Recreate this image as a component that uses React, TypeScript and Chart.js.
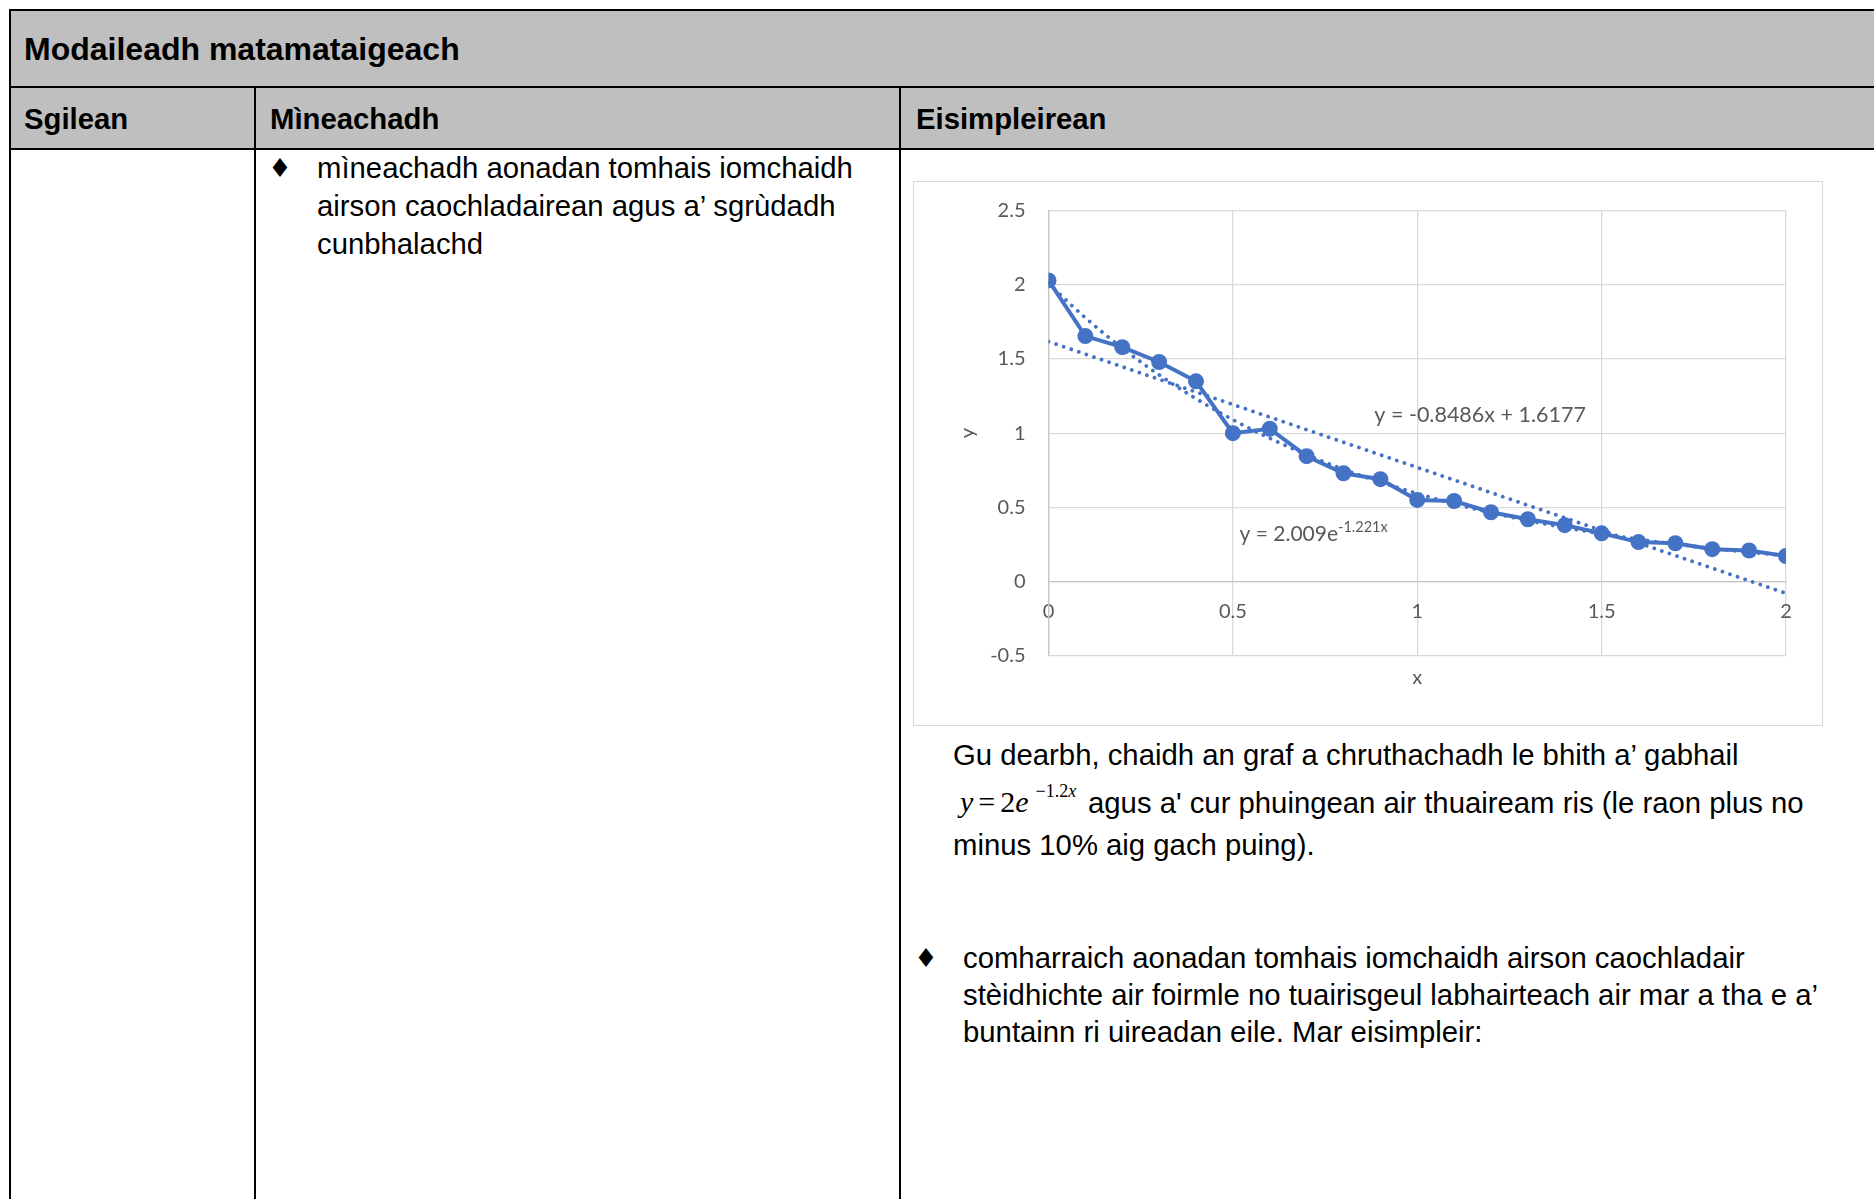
import React, { useEffect, useRef } from "react";
import { Chart, registerables } from "chart.js";

Chart.register(...registerables);

// ---------- data ----------
const xValues = [0, 0.1, 0.2, 0.3, 0.4, 0.5, 0.6, 0.7, 0.8, 0.9, 1.0, 1.1, 1.2, 1.3, 1.4, 1.5, 1.6, 1.7, 1.8, 1.9, 2.0];
const yValues = [2.03, 1.655, 1.58, 1.48, 1.35, 1.0, 1.03, 0.845, 0.73, 0.69, 0.55, 0.543, 0.467, 0.42, 0.38, 0.325, 0.266, 0.258, 0.218, 0.209, 0.172];
const expTrendValues = [2.009, 1.778, 1.574, 1.393, 1.233, 1.091, 0.966, 0.855, 0.756, 0.67, 0.593, 0.524, 0.464, 0.411, 0.364, 0.322, 0.285, 0.252, 0.223, 0.197, 0.175];
const linearTrendX = [0, 2];
const linearTrendY = [1.6177, -0.0795];
const xTickValues = [0, 0.5, 1, 1.5, 2];
const xTickLabels = ["0", "0.5", "1", "1.5", "2"];
const yTickValues = [-0.5, 0, 0.5, 1, 1.5, 2, 2.5];
const yTickLabels = ["-0.5", "0", "0.5", "1", "1.5", "2", "2.5"];
const linearLabel = "y = -0.8486x + 1.6177";
const expLabelBase = "y = 2.009e";
const expLabelPower = "-1.221x";

// ---------- styles ----------
const BLUE = "#4472C4";
const GRID = "#d9d9d9";
const AXIS = "#c6c6c6";
const TXT = "#595959";
const CFONT = "Lato";
const FONT = "'Liberation Sans', Arial, Helvetica, sans-serif";

const trendLabelPlugin = {
  id: "trendLabels",
  afterDatasetsDraw(chart: any) {
    const { ctx } = chart;
    const xs = chart.scales.x;
    const ys = chart.scales.y;
    ctx.save();
    ctx.fillStyle = TXT;
    ctx.textAlign = "left";
    ctx.textBaseline = "alphabetic";
    ctx.font = `21.5px ${CFONT}`;
    ctx.fillText(linearLabel, xs.getPixelForValue(0.8836), ys.getPixelForValue(1.0776));
    const ex = xs.getPixelForValue(0.518);
    const ey = ys.getPixelForValue(0.273);
    ctx.font = `21px ${CFONT}`;
    ctx.fillText(expLabelBase, ex, ey);
    const w = ctx.measureText(expLabelBase).width;
    ctx.font = `14.5px ${CFONT}`;
    ctx.fillText(expLabelPower, ex + w, ey - 9.5);
    ctx.restore();
  },
};

function T(props: { x: number; base: number; size?: number; bold?: boolean; children: any }) {
  const size = props.size ?? 29.3;
  return (
    <div
      style={{
        position: "absolute",
        left: props.x,
        top: props.base - 0.8465 * size,
        fontSize: size,
        lineHeight: `${size}px`,
        fontWeight: props.bold ? 700 : 400,
        whiteSpace: "nowrap",
        fontFamily: FONT,
        color: "#000",
      }}
    >
      {props.children}
    </div>
  );
}

function Bullet(props: { cx: number; base: number }) {
  return (
    <div
      style={{
        position: "absolute",
        left: props.cx - 12,
        top: props.base - 23,
        width: 24,
        textAlign: "center",
        fontSize: 26,
        lineHeight: "26px",
        fontFamily: "'DejaVu Sans', sans-serif",
        color: "#000",
      }}
    >
      ♦
    </div>
  );
}

function Line(props: { l: number; t: number; w: number; h: number }) {
  return <div style={{ position: "absolute", left: props.l, top: props.t, width: props.w, height: props.h, background: "#000" }} />;
}

export default function App() {
  const ref = useRef<HTMLCanvasElement>(null);

  useEffect(() => {
    if (!ref.current) return;
    const tickFont = { family: CFONT, size: 20 };
    const chart = new Chart(ref.current, {
      type: "line",
      data: {
        datasets: [
          {
            label: "Linear trend",
            data: linearTrendX.map((x, i) => ({ x, y: linearTrendY[i] })),
            borderColor: BLUE,
            borderWidth: 3.8,
            borderDash: [0.001, 8],
            borderCapStyle: "round",
            pointRadius: 0,
            fill: false,
          },
          {
            label: "Exponential trend",
            data: xValues.map((x, i) => ({ x, y: expTrendValues[i] })),
            borderColor: BLUE,
            borderWidth: 3.8,
            borderDash: [0.001, 8],
            borderCapStyle: "round",
            pointRadius: 0,
            cubicInterpolationMode: "monotone",
            fill: false,
          },
          {
            label: "y",
            data: xValues.map((x, i) => ({ x, y: yValues[i] })),
            borderColor: BLUE,
            borderWidth: 4,
            pointRadius: 8,
            pointBackgroundColor: BLUE,
            pointBorderWidth: 0,
            tension: 0,
            fill: false,
          },
        ],
      } as any,
      options: {
        responsive: false,
        animation: false,
        devicePixelRatio: 1,
        layout: { padding: { left: 42, top: 28.7, right: 36, bottom: 35.3 } },
        plugins: { legend: { display: false }, tooltip: { enabled: false } },
        scales: {
          x: {
            type: "linear",
            min: 0,
            max: 2,
            ticks: { display: false, stepSize: 0.5 },
            grid: { color: GRID, lineWidth: 1.3, drawTicks: false },
            border: { display: false },
            title: { display: true, text: "x", color: TXT, font: tickFont, padding: 0 },
            afterFit: (s: any) => {
              s.height = 34;
            },
          },
          x2: {
            type: "linear",
            axis: "x",
            position: { y: 0 },
            min: 0,
            max: 2,
            ticks: {
              stepSize: 0.5,
              padding: 18,
              color: TXT,
              font: tickFont,
              callback: (v: any) => {
                const i = xTickValues.indexOf(Number(v));
                return i >= 0 ? xTickLabels[i] : "";
              },
            },
            grid: { display: false, drawTicks: false },
            border: { display: true, color: AXIS, width: 1.3 },
          },
          y: {
            type: "linear",
            min: -0.5,
            max: 2.5,
            ticks: {
              stepSize: 0.5,
              padding: 15,
              color: TXT,
              font: tickFont,
              callback: (v: any) => {
                const i = yTickValues.indexOf(Number(v));
                return i >= 0 ? yTickLabels[i] : "";
              },
            },
            grid: { color: GRID, lineWidth: 1.3, drawTicks: true, tickLength: 8, tickColor: "rgba(0,0,0,0)" },
            border: { display: true, color: AXIS, width: 1.3 },
            title: { display: true, text: "y", color: TXT, font: tickFont, padding: 0 },
            afterFit: (s: any) => {
              s.width = 92.5;
            },
          },
        },
      } as any,
      plugins: [trendLabelPlugin],
    });
    return () => chart.destroy();
  }, []);

  return (
    <div style={{ position: "absolute", left: 0, top: 0, width: 1874, height: 1199, overflow: "hidden", background: "#fff" }}>
      {/* header background */}
      <div style={{ position: "absolute", left: 9, top: 10, width: 1870, height: 139, background: "#bfbfbf" }} />
      {/* table lines */}
      <Line l={8.5} t={9} w={1870} h={2} />
      <Line l={8.5} t={9} w={2} h={1200} />
      <Line l={8.5} t={86} w={1870} h={2} />
      <Line l={8.5} t={148} w={1870} h={2} />
      <Line l={254} t={87} w={2} h={1120} />
      <Line l={899} t={87} w={2} h={1120} />

      {/* headers */}
      <T x={24} base={60} size={32} bold>Modaileadh matamataigeach</T>
      <T x={24} base={129} bold>Sgilean</T>
      <T x={270} base={129} bold>Mìneachadh</T>
      <T x={916} base={129} bold>Eisimpleirean</T>

      {/* middle column */}
      <Bullet cx={280} base={178} />
      <T x={317} base={178}>mìneachadh aonadan tomhais iomchaidh</T>
      <T x={317} base={216}>airson caochladairean agus a’ sgrùdadh</T>
      <T x={317} base={254}>cunbhalachd</T>

      {/* chart */}
      <div
        style={{
          position: "absolute",
          left: 913,
          top: 181,
          width: 910,
          height: 545,
          border: "1px solid #d9d9d9",
          boxSizing: "border-box",
          background: "#fff",
        }}
      >
        <canvas ref={ref} width={908} height={543} style={{ display: "block", width: 908, height: 543 }} />
      </div>

      {/* text below chart */}
      <T x={953} base={765}>Gu dearbh, chaidh an graf a chruthachadh le bhith a’ gabhail</T>
      <div
        style={{
          position: "absolute",
          left: 960,
          top: 812 - 0.8375 * 30,
          fontSize: 30,
          lineHeight: "30px",
          whiteSpace: "nowrap",
          fontFamily: "'Liberation Serif', 'Times New Roman', serif",
          color: "#000",
        }}
      >
        <span style={{ fontStyle: "italic" }}>y</span>
        <span style={{ margin: "0 5px" }}>=</span>
        <span>2</span>
        <span style={{ fontStyle: "italic" }}>e</span>
        <span style={{ position: "relative", top: -15, fontSize: 18, marginLeft: 7 }}>
          −1.2<span style={{ fontStyle: "italic" }}>x</span>
        </span>
      </div>
      <T x={1088} base={813}>agus a' cur phuingean air thuaiream ris (le raon plus no</T>
      <T x={953} base={855}>minus 10% aig gach puing).</T>

      <Bullet cx={926} base={968} />
      <T x={963} base={968}>comharraich aonadan tomhais iomchaidh airson caochladair</T>
      <T x={963} base={1005}>stèidhichte air foirmle no tuairisgeul labhairteach air mar a tha e a’</T>
      <T x={963} base={1042}>buntainn ri uireadan eile. Mar eisimpleir:</T>
    </div>
  );
}
